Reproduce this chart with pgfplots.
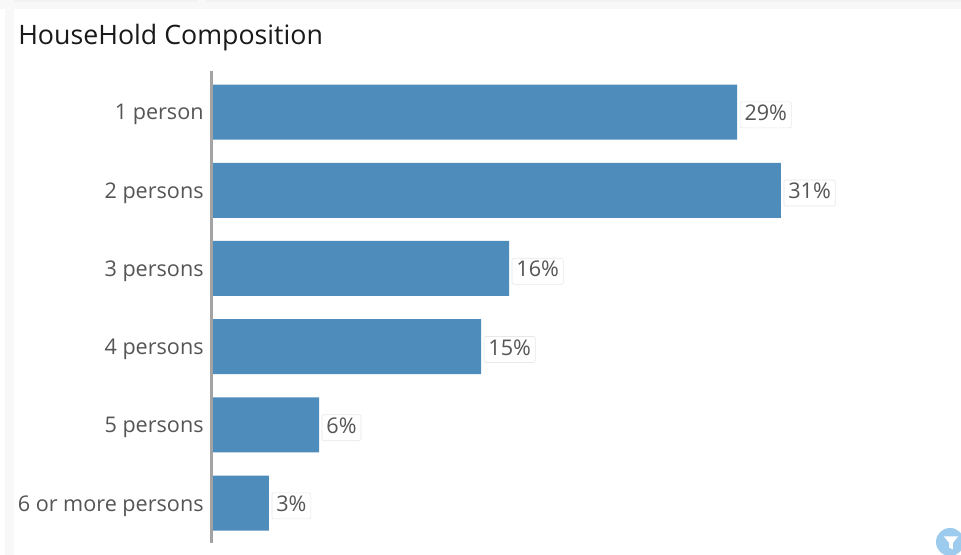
\documentclass[border=0pt]{standalone}
\usepackage{pgfplots}
\pgfplotsset{compat=1.18}
\usepackage{fontspec}
\setmainfont{Open Sans}
\definecolor{barblue}{HTML}{4E8DBB}
\definecolor{lbl}{HTML}{555555}
\definecolor{axisgray}{HTML}{A3A3A3}
\definecolor{bggray}{HTML}{F8F8F8}
\definecolor{stripgray}{HTML}{F2F2F2}
\definecolor{iconblue}{HTML}{9CCBEE}
\begin{document}
\begin{tikzpicture}[x=0.75pt,y=-0.75pt]
\path[use as bounding box] (0,0) rectangle (961,555);
\fill[white] (0,0) rectangle (961,555);
\fill[bggray] (0,0) rectangle (961,9);
\fill[bggray] (5,0) rectangle (14,555);
\fill[stripgray] (14,0) rectangle (198,2);
\fill[stripgray] (206,0) rectangle (961,2);
\node[anchor=base west,inner sep=0pt,font=\fontsize{20.05pt}{24pt}\selectfont,text=black!90] at (18,44.5) {HouseHold Composition};
\begin{axis}[
  at={(159pt,-407.25pt)},anchor=south west,
  scale only axis,width=561.75pt,height=354pt,
  xmin=0,xmax=41.15,ymin=-0.525,ymax=5.51,
  y dir=reverse,
  axis x line=none,
  axis y line=left,
  y axis line style={-,draw=none},
  ytick={0,1,2,3,4,5},
  yticklabels={1 person,2 persons,3 persons,4 persons,5 persons,6 or more persons},
  major tick length=0pt,
  yticklabel style={font=\fontsize{16.2pt}{19pt}\selectfont,text=lbl,inner sep=0pt,xshift=-6.1pt,yshift=-2.1pt},
  clip=false,
  xbar,bar width=41.25pt,bar shift=0pt,
  point meta=explicit symbolic,
  nodes near coords,
  nodes near coords style={font=\fontsize{16.2pt}{19pt}\selectfont,text=lbl,anchor=west,
    fill=white,draw=black!9,line width=0.5pt,rounded corners=1.5pt,
    inner xsep=3.3pt,inner ysep=0pt,text height=14pt,text depth=5.5pt,xshift=2pt,yshift=-2.1pt},
]
\addplot[fill=barblue,draw=none] coordinates {
 (28.85,0)[29\%]
 (31.26,1)[31\%]
 (16.32,2)[16\%]
 (14.78,3)[15\%]
 (5.88,4)[6\%]
 (3.13,5)[3\%]
};
\end{axis}
\fill[axisgray] (209.8,71) rectangle (213.4,543.5);
\begin{scope}
\clip (0,0) rectangle (961,555);
\fill[iconblue] (950,542) circle (14);
\fill[white] (944,536.5) -- (958,536.5) -- (952.8,543) -- (952.8,549.5) -- (949.2,547.5) -- (949.2,543) -- cycle;
\end{scope}
\end{tikzpicture}
\end{document}
